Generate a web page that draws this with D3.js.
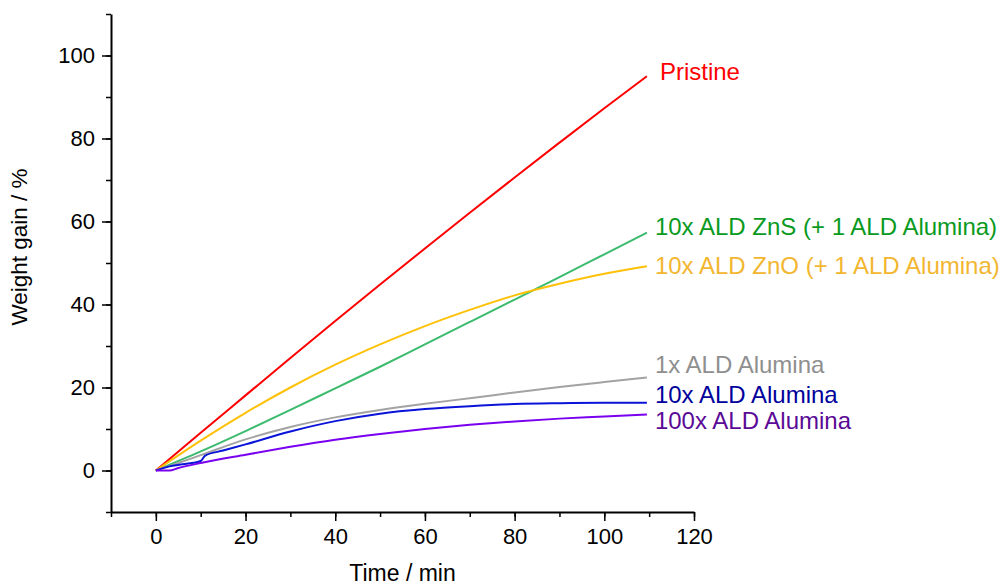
<!DOCTYPE html>
<html>
<head>
<meta charset="utf-8">
<script src="https://cdn.jsdelivr.net/npm/d3@7"></script>
<style>
  body { margin: 0; background: #fff; }
  svg { display: block; font-family: "Liberation Sans", Arial, sans-serif; }
</style>
</head>
<body>
<div id="chart"></div>
<script>
// values: [time (min), weight gain (%)]
const pristine = [[0, 0], [10, 9.1], [20, 18.1], [30, 27.1], [40, 36], [50, 44.8], [60, 53.5], [70, 62.1], [80, 70.6], [90, 79], [100, 87.3], [109.5, 95]];
const zns = [[0, 0], [10, 4.6], [20, 9.5], [30, 14.6], [40, 19.8], [50, 25], [60, 30.4], [70, 35.8], [80, 41.2], [90, 46.6], [100, 52.1], [109.5, 57.3]];
const zno = [[0, 0], [10, 7.2], [20, 13.9], [30, 20], [40, 25.5], [50, 30.4], [60, 34.8], [70, 38.7], [80, 42.2], [90, 45], [100, 47.4], [109.5, 49.2]];
const alumina1 = [[0, 0], [5, 1.8], [10, 3.7], [20, 7.5], [30, 10.5], [40, 12.8], [50, 14.6], [60, 16.1], [70, 17.4], [80, 18.8], [90, 20.1], [100, 21.3], [109.5, 22.4]];
const alumina10 = [[0, 0], [3, 1], [6, 1.5], [10, 2.3], [11, 3.6], [15, 4.8], [20, 6.3], [30, 9.4], [40, 11.9], [50, 13.7], [60, 14.8], [70, 15.5], [80, 16], [90, 16.2], [100, 16.3], [109.5, 16.3]];
const alumina100 = [[0, 0], [3, 0], [5, 0.6], [10, 1.8], [20, 3.8], [30, 5.7], [40, 7.4], [50, 8.8], [60, 10], [70, 11], [80, 11.8], [90, 12.5], [100, 13], [109.5, 13.5]];

const seriesNames = ["Pristine", "10x ALD ZnS (+ 1 ALD Alumina)", "10x ALD ZnO (+ 1 ALD Alumina)", "1x ALD Alumina", "10x ALD Alumina", "100x ALD Alumina"];
const seriesValues = [pristine, zns, zno, alumina1, alumina10, alumina100];

const xTicks = [0, 20, 40, 60, 80, 100, 120];
const yTicks = [0, 20, 40, 60, 80, 100];

const width = 1008;
const height = 585;

const lineColors = ["#ff0000", "#3cbb6e", "#ffc107", "#a3a3a3", "#0a14d8", "#7a00f0"];
const labelColors = ["#ff0000", "#0a9a1e", "#f2b630", "#8f8f8f", "#00009c", "#5a0a96"];
// label baseline offset from the line end (px), set by hand in the original
const labelDy = [4, 2.5, 7.5, -5, 0.6, 14.3];

const svg = d3
  .select("#chart")
  .append("svg")
  .attr("width", width)
  .attr("height", height);

const x = d3.scaleLinear().domain([-10, 120]).range([111, 694]);
const y = d3.scaleLinear().domain([-10, 110]).range([512, 14]);

// minor ticks first, majors on top
svg
  .append("g")
  .attr("transform", `translate(0,${y(-10)})`)
  .call(d3.axisBottom(x).tickValues(d3.range(-10, 121, 10)).tickSize(5).tickFormat(""))
  .call((g) => g.select(".domain").remove());

svg
  .append("g")
  .attr("transform", `translate(${x(-10)},0)`)
  .call(d3.axisLeft(y).tickValues(d3.range(-10, 111, 10)).tickSize(5).tickFormat(""))
  .call((g) => g.select(".domain").remove());

svg
  .append("g")
  .attr("transform", `translate(0,${y(-10)})`)
  .call(d3.axisBottom(x).tickValues(xTicks).tickSize(9).tickPadding(7).tickSizeOuter(0));

svg
  .append("g")
  .attr("transform", `translate(${x(-10)},0)`)
  .call(d3.axisLeft(y).tickValues(yTicks).tickSize(9).tickPadding(7).tickSizeOuter(0));

svg.selectAll(".tick line").attr("stroke", "#000").attr("stroke-width", 1.5);
svg.selectAll(".domain").attr("stroke", "#000").attr("stroke-width", 2);
svg
  .selectAll(".tick text")
  .attr("font-family", "Liberation Sans, Arial, sans-serif")
  .attr("font-size", 22)
  .attr("fill", "#000");

svg
  .append("text")
  .attr("x", (x(-10) + x(120)) / 2)
  .attr("y", 581)
  .attr("text-anchor", "middle")
  .attr("font-size", 23)
  .text("Time / min");

svg
  .append("text")
  .attr("transform", `translate(27,${247}) rotate(-90)`)
  .attr("text-anchor", "middle")
  .attr("font-size", 22.5)
  .text("Weight gain / %");

const line = d3
  .line()
  .x((d) => x(d[0]))
  .y((d) => y(d[1]))
  .curve(d3.curveMonotoneX);

svg
  .selectAll("path.series")
  .data(seriesValues)
  .join("path")
  .attr("class", "series")
  .attr("fill", "none")
  .attr("stroke", (d, i) => lineColors[i])
  .attr("stroke-width", 2)
  .attr("d", line);

svg
  .selectAll("text.label")
  .data(seriesValues)
  .join("text")
  .attr("class", "label")
  .attr("x", (d, i) => x(d[d.length - 1][0]) + (i === 0 ? 13 : 8))
  .attr("y", (d, i) => y(d[d.length - 1][1]) + labelDy[i])
  .attr("font-size", 24)
  .attr("fill", (d, i) => labelColors[i])
  .text((d, i) => seriesNames[i]);
</script>
</body>
</html>
